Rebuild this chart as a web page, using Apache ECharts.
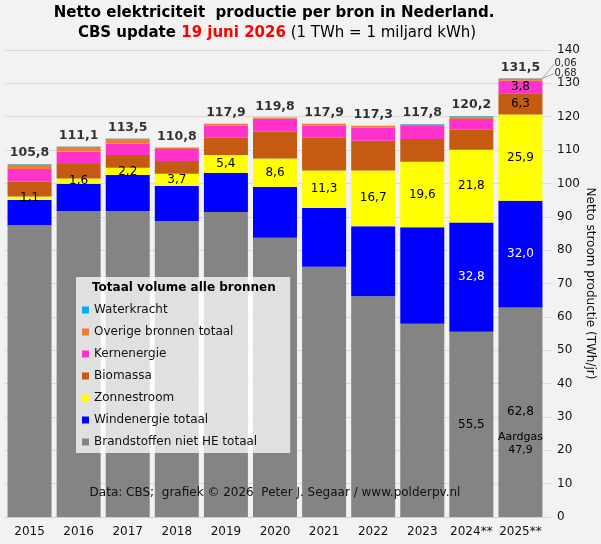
<!DOCTYPE html>
<html>
<head>
<meta charset="utf-8">
<script src="https://cdn.jsdelivr.net/npm/echarts@6/dist/echarts.min.js"></script>
<style>
  html, body { margin: 0; padding: 0; background: #f2f2f2; }
  #chart { width: 601px; height: 544px; }
</style>
</head>
<body>
<div id="chart"></div>
<script>
// TWh per year
const years = ['2015', '2016', '2017', '2018', '2019', '2020', '2021', '2022', '2023', '2024**', '2025**'];
const fossil = [87.5, 91.7, 91.7, 88.7, 91.4, 83.7, 75.0, 66.2, 57.9, 55.5, 62.8];
const wind = [7.5, 8.2, 10.8, 10.5, 11.7, 15.2, 17.6, 21.0, 29.0, 32.8, 32.0];
const solar = [1.1, 1.6, 2.2, 3.7, 5.4, 8.6, 11.3, 16.7, 19.6, 21.8, 25.9];
const biomass = [4.4, 4.3, 3.8, 3.8, 5.2, 8.0, 9.8, 8.9, 6.8, 6.0, 6.3];
const nuclear = [3.8, 3.8, 3.5, 3.6, 3.6, 3.9, 3.6, 4.0, 3.9, 3.2, 3.8];
const other = [1.4, 1.4, 1.4, 0.4, 0.5, 0.3, 0.5, 0.4, 0.5, 0.8, 0.68];
const hydro = [0.1, 0.1, 0.1, 0.1, 0.1, 0.1, 0.1, 0.1, 0.1, 0.1, 0.06];
const totals = [105.8, 111.1, 113.5, 110.8, 117.9, 119.8, 117.9, 117.3, 117.8, 120.2, 131.5];
const gas2025 = 47.9;

const FONT = 'DejaVu Sans';
const fmt = (v, d) => v.toFixed(d == null ? 1 : d).replace('.', ',');

function items(values, shown) {
  return values.map((v, i) => ({ value: v, label: { show: shown.indexOf(i) >= 0 } }));
}

function stackBar(name, values, color, shown, label, extra) {
  return Object.assign({
    name: name,
    type: 'bar',
    stack: 'total',
    barWidth: 44,
    itemStyle: { color: color },
    label: Object.assign({
      position: 'inside',
      color: '#000',
      fontSize: 12,
      fontFamily: FONT,
      formatter: p => fmt(p.value)
    }, label || {}),
    data: items(values, shown)
  }, extra || {});
}

// small labels beside the top of the last bar, with a leader line
function sideLabel(up) {
  return {
    labelLayout: p => ({
      x: p.rect.x + p.rect.width + 12,
      y: p.rect.y - up,
      align: 'left',
      verticalAlign: 'middle'
    }),
    labelLine: { show: true, lineStyle: { color: '#aaa', width: 1 } }
  };
}

const chart = echarts.init(document.getElementById('chart'));

const series = [
  stackBar('Brandstoffen niet HE totaal', fossil, '#848484', [9, 10], {
    formatter: p => p.dataIndex === 10
      ? '{sp| }\n{v|' + fmt(p.value) + '}\n{sp2| }\n{n|Aardgas}\n{n|' + fmt(gas2025) + '}'
      : fmt(p.value),
    rich: {
      sp: { lineHeight: 37, fontSize: 2 },
      v: { lineHeight: 14, fontSize: 12, fontFamily: FONT, color: '#000' },
      sp2: { lineHeight: 11, fontSize: 2 },
      n: { lineHeight: 13, fontSize: 11, fontFamily: FONT, color: '#000' }
    }
  }),
  stackBar('Windenergie totaal', wind, '#0000ff', [9, 10], { color: '#fff' }),
  stackBar('Zonnestroom', solar, '#ffff00', [0, 1, 2, 3, 4, 5, 6, 7, 8, 9, 10]),
  stackBar('Biomassa', biomass, '#c55a11', [10]),
  stackBar('Kernenergie', nuclear, '#ff33cc', [10]),
  stackBar('Overige bronnen totaal', other, '#ed7d31', [10], {
    position: 'right', fontSize: 10, color: '#222', formatter: p => fmt(p.value, 2)
  }, sideLabel(5)),
  stackBar('Waterkracht', hydro, '#00b0f0', [10], {
    position: 'right', fontSize: 10, color: '#222', formatter: p => fmt(p.value, 2)
  }, sideLabel(14.5)),
  {
    name: 'totaal',
    type: 'scatter',
    data: totals,
    symbolSize: 1,
    itemStyle: { color: 'rgba(0,0,0,0)' },
    silent: true,
    z: 5,
    label: {
      show: true,
      position: 'top',
      distance: 4,
      color: '#000',
      fontSize: 12.5,
      fontWeight: 'bold',
      fontFamily: FONT,
      formatter: p => fmt(p.value)
    }
  }
];

chart.setOption({
  animation: false,
  backgroundColor: '#f2f2f2',
  textStyle: { fontFamily: FONT },
  grid: { left: 5, right: 56, top: 50, bottom: 27, containLabel: false, outerBoundsMode: 'none' },
  legend: {
    orient: 'vertical',
    left: 76,
    top: 277,
    padding: [27, 33, 5, 6],
    backgroundColor: 'rgba(255,255,255,0.75)',
    itemWidth: 7,
    itemHeight: 7,
    itemGap: 10,
    icon: 'rect',
    selectedMode: false,
    z: 10,
    textStyle: { fontSize: 12, color: '#111', fontFamily: FONT },
    data: ['Waterkracht', 'Overige bronnen totaal', 'Kernenergie', 'Biomassa',
      'Zonnestroom', 'Windenergie totaal', 'Brandstoffen niet HE totaal']
  },
  xAxis: {
    type: 'category',
    data: years,
    axisLine: { lineStyle: { color: '#cfcfcf' } },
    axisTick: { show: false },
    axisLabel: { interval: 0, color: '#111', fontSize: 12, margin: 9, fontFamily: FONT }
  },
  yAxis: {
    type: 'value',
    position: 'right',
    min: 0,
    max: 140,
    interval: 10,
    name: 'Netto stroom productie (TWh/jr)',
    nameLocation: 'middle',
    nameRotate: -90,
    nameGap: 39,
    nameMoveOverlap: false,
    nameTextStyle: { fontSize: 12, color: '#111', fontFamily: FONT },
    axisLine: { show: false },
    axisTick: { show: true, length: 6, lineStyle: { color: '#d9d9d9' } },
    splitLine: { lineStyle: { color: '#d9d9d9' } },
    axisLabel: { color: '#111', fontSize: 12, margin: 12, fontFamily: FONT }
  },
  graphic: [
    {
      type: 'text', x: 274, y: 13, z: 100,
      style: {
        text: 'Netto elektriciteit  productie per bron in Nederland.',
        font: 'bold 15px "DejaVu Sans"', fill: '#000',
        align: 'center', verticalAlign: 'middle'
      }
    },
    {
      type: 'text', x: 277, y: 33, z: 100,
      style: {
        text: '{b|CBS update }{r|19 juni 2026}{n| (1 TWh = 1 miljard kWh)}',
        align: 'center', verticalAlign: 'middle',
        rich: {
          b: { font: 'bold 15px "DejaVu Sans"', fill: '#000' },
          r: { font: 'bold 15px "DejaVu Sans"', fill: '#ff0000' },
          n: { font: '15px "DejaVu Sans"', fill: '#000' }
        }
      }
    },
    {
      type: 'text', x: 92, y: 288, z: 100,
      style: {
        text: 'Totaal volume alle bronnen',
        font: 'bold 12px "DejaVu Sans"', fill: '#000',
        verticalAlign: 'middle'
      }
    },
    {
      type: 'text', x: 275, y: 493, z: 100,
      style: {
        text: 'Data: CBS;  grafiek \u00a9 2026  Peter J. Segaar / www.polderpv.nl',
        font: '12px "DejaVu Sans"', fill: '#111',
        align: 'center', verticalAlign: 'middle'
      }
    }
  ],
  series: series
});
</script>
</body>
</html>
